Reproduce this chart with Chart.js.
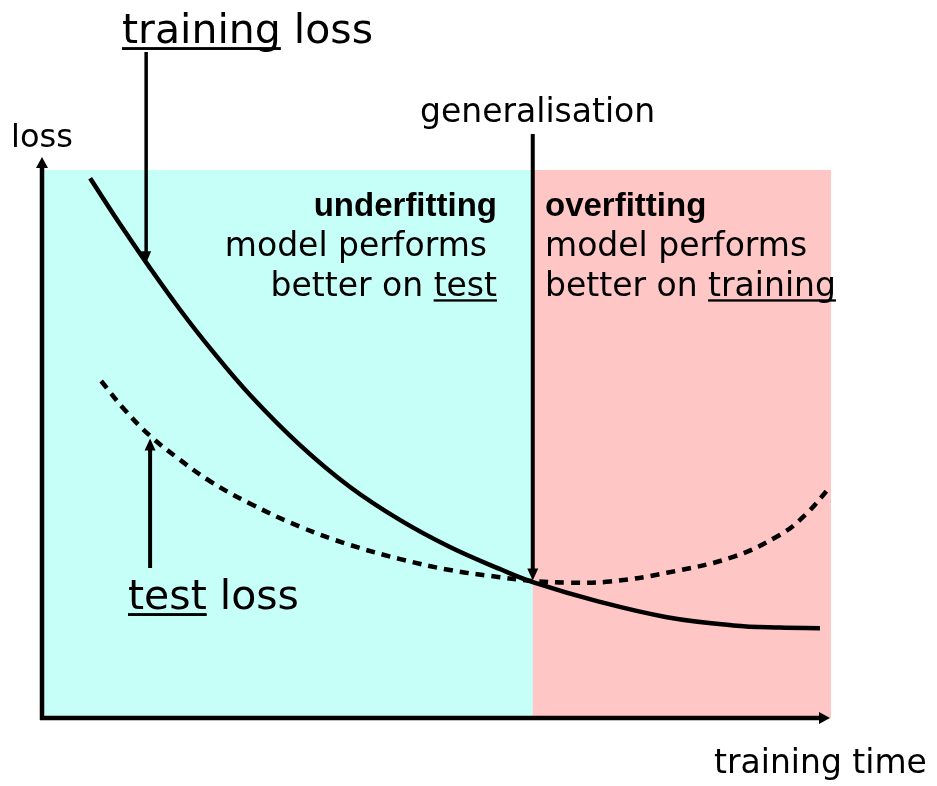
<!DOCTYPE html>
<html>
<head>
<meta charset="utf-8">
<script src="https://cdn.jsdelivr.net/npm/chart.js@4/dist/chart.umd.min.js"></script>
<style>
  html, body { margin: 0; padding: 0; background: #ffffff; }
  #wrap { width: 937px; height: 786px; }
</style>
</head>
<body>
<div id="wrap"><canvas id="c" width="937" height="786"></canvas></div>
<script>
// ---- data (x: training time, y: loss; both on 0..100 scales) ----
const trainTime = [6.1, 9.9, 13.7, 17.5, 21.3, 26.4, 32.7, 39.0, 45.4, 51.7, 58.0, 62.2, 70.7, 79.2, 87.6, 93.5, 98.6];
const trainLoss = [98.5, 90.1, 82.1, 74.5, 67.5, 58.9, 49.8, 42.2, 36.1, 31.2, 27.2, 24.8, 21.2, 18.4, 16.9, 16.5, 16.4];
const testTime  = [7.5, 10.5, 13.7, 17.5, 21.3, 26.4, 32.7, 39.0, 45.4, 51.7, 58.0, 62.2, 66.9, 72.0, 79.2, 87.6, 93.5, 96.7, 99.9];
const testLoss  = [61.5, 56.2, 51.5, 47.1, 43.2, 39.1, 34.9, 31.6, 29.0, 27.0, 25.7, 25.0, 24.7, 24.9, 26.5, 29.4, 33.4, 37.0, 42.2];

// regions: underfitting / overfitting split at the generalisation point
const regionNames = ['underfitting', 'overfitting'];
const regionFrom  = [0, 62.2];
const regionTo    = [62.2, 100];
const regionColor = ['#c6fff7', '#ffc6c6'];

// arrow targets on the curves (data coords)
const generalisationX = 62.2;
const generalisationY = 24.9;
const trainArrowX = 13.2, trainArrowY = 83.0;
const testArrowX  = 13.7, testArrowY  = 51.0;

const FONT = '"DejaVu Sans", Verdana, sans-serif';
const BOLD = '"Liberation Sans", Arial, sans-serif';

function line(ctx, x1, y1, x2, y2, w) {
  ctx.beginPath(); ctx.lineWidth = w; ctx.moveTo(x1, y1); ctx.lineTo(x2, y2); ctx.stroke();
}
function head(ctx, x, y, dir, len, half) {
  ctx.beginPath();
  if (dir === 'up')   { ctx.moveTo(x, y); ctx.lineTo(x - half, y + len); ctx.lineTo(x + half, y + len); }
  if (dir === 'down') { ctx.moveTo(x, y); ctx.lineTo(x - half, y - len); ctx.lineTo(x + half, y - len); }
  if (dir === 'right'){ ctx.moveTo(x, y); ctx.lineTo(x - len, y - half); ctx.lineTo(x - len, y + half); }
  ctx.closePath(); ctx.fill();
}
function textU(ctx, parts, x, y, align) {
  let total = 0;
  parts.forEach(p => total += ctx.measureText(p[0]).width);
  let cx = align === 'right' ? x - total : x;
  ctx.textAlign = 'left';
  parts.forEach(p => {
    const w = ctx.measureText(p[0]).width;
    ctx.fillText(p[0], cx, y);
    if (p[1]) {
      const fs = parseFloat(ctx.font.match(/(\d+(\.\d+)?)px/)[1]);
      ctx.fillRect(cx, y + fs * 0.1, w, Math.max(2, fs * 0.07));
    }
    cx += w;
  });
}

const bgPlugin = {
  id: 'bg',
  beforeDatasetsDraw(chart) {
    const { ctx, chartArea, scales } = chart;
    ctx.save();
    for (let i = 0; i < regionFrom.length; i++) {
      const x1 = scales.x.getPixelForValue(regionFrom[i]);
      const x2 = scales.x.getPixelForValue(regionTo[i]);
      ctx.fillStyle = regionColor[i];
      ctx.fillRect(x1, chartArea.top, x2 - x1, chartArea.bottom - chartArea.top);
    }
    ctx.restore();
  }
};

const decoPlugin = {
  id: 'deco',
  afterDraw(chart) {
    const { ctx, chartArea, scales } = chart;
    const L = chartArea.left, B = chartArea.bottom;
    ctx.save();
    ctx.strokeStyle = '#000'; ctx.fillStyle = '#000'; ctx.lineCap = 'butt';
    // axes
    line(ctx, L, B + 2, L, 166, 4.5);
    head(ctx, L, 157, 'up', 11, 6);
    line(ctx, L - 2, B, 820, B, 4.5);
    head(ctx, 830, B, 'right', 11, 6);

    // generalisation arrow
    const gx = scales.x.getPixelForValue(generalisationX);
    const gy = scales.y.getPixelForValue(generalisationY);
    line(ctx, gx, 134, gx, gy - 10, 4);
    head(ctx, gx, gy - 1, 'down', 12, 5.5);

    // training loss arrow
    const tx = scales.x.getPixelForValue(trainArrowX);
    const ty = scales.y.getPixelForValue(trainArrowY);
    line(ctx, tx, 52, tx, ty - 10, 3.5);
    head(ctx, tx, ty, 'down', 12, 5);

    // test loss arrow
    const sx = scales.x.getPixelForValue(testArrowX);
    const sy = scales.y.getPixelForValue(testArrowY);
    line(ctx, sx, 568, sx, sy + 10, 4);
    head(ctx, sx, sy, 'up', 12, 5.5);

    // texts
    ctx.textBaseline = 'alphabetic';
    ctx.font = '41px ' + FONT;
    textU(ctx, [['training', true], [' loss', false]], 122, 43, 'left');
    textU(ctx, [['test', true], [' loss', false]], 128, 609, 'left');

    ctx.font = '32px ' + FONT;
    textU(ctx, [['loss', false]], 11, 147, 'left');
    ctx.font = '33px ' + FONT;
    textU(ctx, [['generalisation', false]], 420, 122, 'left');
    textU(ctx, [['training time', false]], 714, 773, 'left');

    // region descriptions
    ctx.font = 'bold 33px ' + BOLD;
    textU(ctx, [[regionNames[0], false]], 497, 216, 'right');
    textU(ctx, [[regionNames[1], false]], 545, 216, 'left');
    ctx.font = '33px ' + FONT;
    textU(ctx, [['model performs', false]], 487, 256, 'right');
    textU(ctx, [['better on ', false], ['test', true]], 497, 296, 'right');
    textU(ctx, [['model performs', false]], 545, 256, 'left');
    textU(ctx, [['better on ', false], ['training', true]], 545, 296, 'left');
    ctx.restore();
  }
};

new Chart(document.getElementById('c'), {
  type: 'line',
  data: {
    datasets: [
      {
        label: 'training loss',
        data: trainTime.map((t, i) => ({ x: t, y: trainLoss[i] })),
        borderColor: '#000', borderWidth: 4.5, pointRadius: 0,
        tension: 0.4, fill: false, clip: false
      },
      {
        label: 'test loss',
        data: testTime.map((t, i) => ({ x: t, y: testLoss[i] })),
        borderColor: '#000', borderWidth: 4.5, borderDash: [9, 7], pointRadius: 0,
        tension: 0.4, fill: false, clip: false
      }
    ]
  },
  options: {
    responsive: false,
    animation: false,
    events: [],
    layout: { padding: { left: 42, right: 106, top: 170, bottom: 68 } },
    scales: {
      x: { type: 'linear', min: 0, max: 100, display: false },
      y: { type: 'linear', min: 0, max: 100, display: false }
    },
    plugins: { legend: { display: false }, tooltip: { enabled: false } }
  },
  plugins: [bgPlugin, decoPlugin]
});
</script>
</body>
</html>
